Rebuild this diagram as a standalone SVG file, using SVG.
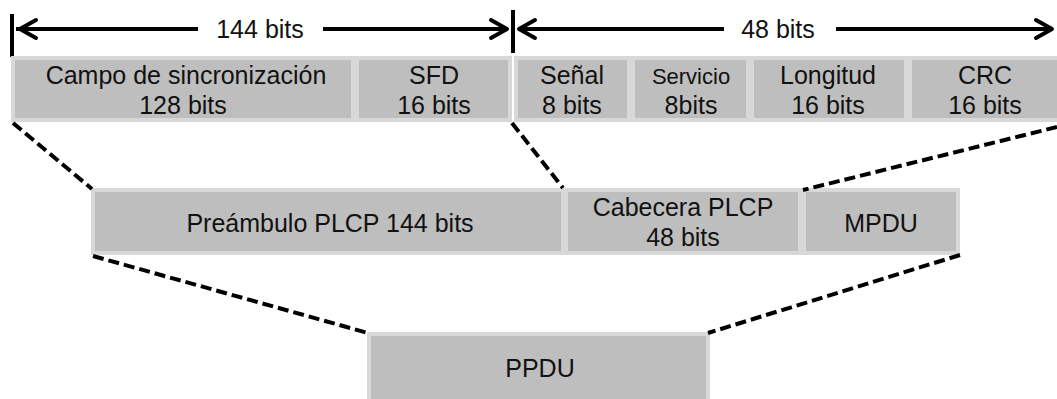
<svg xmlns="http://www.w3.org/2000/svg" width="1057" height="399" viewBox="0 0 1057 399">
  <style>
    .box { fill: #bebebe; stroke: #d8d8d8; stroke-width: 4; }
    .lbl { font-family: "Liberation Sans", Arial, sans-serif; font-size: 25px; fill: #111; text-anchor: middle; }
    .sm { font-size: 22px; }
    .dim { stroke: #000; stroke-width: 4; fill: none; stroke-linecap: butt; }
    .head { stroke: #000; stroke-width: 4; fill: none; stroke-linecap: round; stroke-linejoin: round; }
    .dash { stroke: #000; stroke-width: 4; fill: none; stroke-dasharray: 11 5; }
  </style>
  <rect width="1057" height="399" fill="#fff"/>

  <!-- dimension markers -->
  <g id="dimensions">
    <line class="dim" x1="12" y1="14" x2="12" y2="57"/>
    <line class="dim" x1="513" y1="10" x2="513" y2="53"/>
    <line class="dim" x1="16" y1="29" x2="198" y2="29"/>
    <line class="dim" x1="323" y1="29" x2="508" y2="29"/>
    <path class="head" d="M36 20 L20 29 L36 38"/>
    <path class="head" d="M491 20 L507 29 L491 38"/>
    <text class="lbl" x="260" y="38">144 bits</text>
    <line class="dim" x1="518" y1="29" x2="724" y2="29"/>
    <line class="dim" x1="836" y1="29" x2="1052" y2="29"/>
    <path class="head" d="M535 20 L519 29 L535 38"/>
    <path class="head" d="M1036 20 L1052 29 L1036 38"/>
    <text class="lbl" x="778" y="38">48 bits</text>
  </g>

  <!-- PLCP preamble and header fields -->
  <g id="campo">
    <rect class="box" x="13" y="58" width="340" height="62"/>
    <text class="lbl" x="186" y="84">Campo de sincronización</text>
    <text class="lbl" x="183" y="114">128 bits</text>
  </g>
  <g id="sfd">
    <rect class="box" x="357" y="58" width="153" height="62"/>
    <text class="lbl" x="434" y="84">SFD</text>
    <text class="lbl" x="434" y="114">16 bits</text>
  </g>
  <g id="senal">
    <rect class="box" x="516" y="58" width="113" height="62"/>
    <text class="lbl" x="572" y="84">Señal</text>
    <text class="lbl" x="572" y="114">8 bits</text>
  </g>
  <g id="servicio">
    <rect class="box" x="633" y="58" width="115" height="62"/>
    <text class="lbl sm" x="691" y="84">Servicio</text>
    <text class="lbl" x="691" y="114">8bits</text>
  </g>
  <g id="longitud">
    <rect class="box" x="752" y="58" width="154" height="62"/>
    <text class="lbl" x="828" y="84">Longitud</text>
    <text class="lbl" x="828" y="114">16 bits</text>
  </g>
  <g id="crc">
    <rect class="box" x="910" y="58" width="152" height="62"/>
    <text class="lbl" x="985" y="84">CRC</text>
    <text class="lbl" x="985" y="114">16 bits</text>
  </g>

  <!-- PPDU components -->
  <g id="preambulo">
    <rect class="box" x="93" y="190" width="470" height="63"/>
    <text class="lbl" x="330" y="232">Preámbulo  PLCP 144 bits</text>
  </g>
  <g id="cabecera">
    <rect class="box" x="566" y="190" width="234" height="63"/>
    <text class="lbl" x="683" y="216">Cabecera PLCP</text>
    <text class="lbl" x="683" y="246">48 bits</text>
  </g>
  <g id="mpdu">
    <rect class="box" x="804" y="190" width="154" height="63"/>
    <text class="lbl" x="881" y="232">MPDU</text>
  </g>

  <!-- whole frame -->
  <g id="ppdu">
    <rect class="box" x="369" y="334" width="339" height="70"/>
    <text class="lbl" x="540" y="377">PPDU</text>
  </g>

  <!-- expansion guides -->
  <g id="connectors">
    <line class="dash" x1="13" y1="123" x2="92" y2="189"/>
    <line class="dash" x1="512" y1="123" x2="563" y2="188"/>
    <line class="dash" x1="1057" y1="127" x2="803" y2="190"/>
    <line class="dash" x1="93" y1="256" x2="368" y2="333"/>
    <line class="dash" x1="960" y1="255" x2="708" y2="333"/>
  </g>
</svg>
